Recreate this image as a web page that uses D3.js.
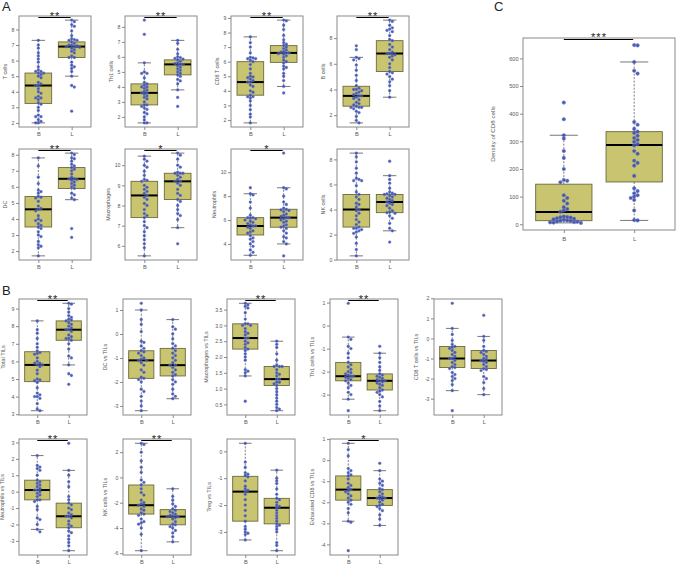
<!DOCTYPE html>
<html><head><meta charset="utf-8">
<script src="https://cdn.jsdelivr.net/npm/d3@7"></script>
<style>body{margin:0;background:#fff}svg{display:block;font-family:"Liberation Sans",Arial,sans-serif}</style>
</head><body><svg id="chart" width="677" height="564"></svg>
<script>
const groups = ["B", "L"];

// ---- Panel A ----
const aTB = [7.3,7.0,6.8,6.5,6.3,6.1,5.9,5.6,5.4,5.3,5.3,5.2,5.2,5.1,5.0,4.9,4.6,4.5,4.4,4.4,4.2,4.0,3.9,3.7,3.6,3.6,3.5,3.3,3.2,3.0,2.8,2.5,2.4,2.4,2.2,2.1,2.0,2.0];
const aTL = [8.6,8.5,8.3,8.2,7.9,7.6,7.4,7.35,7.3,7.3,7.2,7.1,7.0,7.0,6.95,6.9,6.9,6.85,6.8,6.7,6.6,6.5,6.3,6.2,6.2,5.9,5.7,5.6,5.5,5.3,5.0,4.4,4.3,2.75];
const aTBoxB = [2.0,3.25,4.4,5.2,7.3], aTBoxL = [5.0,6.2,6.9,7.2,8.6];
const aTTicks = [2,3,4,5,6,7,8];

const aTh1B = [8.45,7.5,5.6,5.0,4.9,4.9,4.6,4.3,4.2,4.1,4.0,4.0,3.9,3.8,3.7,3.6,3.6,3.5,3.4,3.3,3.2,3.0,2.8,2.8,2.7,2.6,2.5,2.3,2.2,2.0,1.8,1.6,1.6];
const aTh1L = [7.1,6.9,6.5,6.2,6.0,5.95,5.9,5.85,5.8,5.7,5.6,5.55,5.5,5.5,5.4,5.3,5.2,5.1,5.0,4.9,4.8,4.7,4.5,4.4,4.2,3.8,3.3,2.7];
const aTh1BoxB = [1.6,2.8,3.6,4.2,5.6], aTh1BoxL = [3.8,4.8,5.5,5.8,7.1];
const aTh1Ticks = [2,3,4,5,6,7,8];

const aCD8B = [7.7,7.3,7.0,6.6,6.3,6.25,6.2,6.2,6.1,6.0,5.8,5.5,5.2,5.0,4.95,4.9,4.8,4.7,4.6,4.6,4.4,4.3,4.0,3.9,3.7,3.6,3.6,3.5,3.3,3.0,2.7,2.4,2.2,1.8];
const aCD8L = [8.85,8.8,8.5,8.2,7.8,7.5,7.3,7.2,7.1,7.0,6.9,6.8,6.7,6.65,6.6,6.6,6.55,6.5,6.4,6.3,6.1,6.0,5.9,5.7,5.6,5.5,5.2,5.0,4.7,4.3,3.85];
const aCD8BoxB = [1.8,3.7,4.6,6.0,7.7], aCD8BoxL = [4.3,5.95,6.6,7.1,8.85];
const aCD8Ticks = [2,3,4,5,6,7,8,9];

const aBcB = [7.4,7.1,6.5,6.4,6.3,5.9,5.5,5.1,4.7,4.3,4.1,4.0,4.0,3.9,3.8,3.7,3.6,3.5,3.5,3.4,3.3,3.2,3.0,2.9,2.8,2.7,2.6,2.6,2.6,2.5,2.3,2.2,1.9,1.6,1.4];
const aBcL = [9.4,9.3,9.0,8.8,8.7,8.6,8.5,8.2,7.9,7.8,7.5,7.3,7.1,6.9,6.8,6.8,6.7,6.6,6.5,6.3,6.0,5.7,5.4,5.3,5.2,5.0,4.8,4.6,4.3,3.9,3.4];
const aBcBoxB = [1.4,2.7,3.5,4.25,6.5], aBcBoxL = [3.4,5.4,6.8,7.8,9.4];
const aBcTicks = [2,4,6,8];

const aDCB = [7.8,7.3,6.6,6.2,5.8,5.7,5.6,5.4,5.35,5.3,5.1,4.8,4.65,4.6,4.5,4.2,4.0,3.9,3.9,3.7,3.6,3.5,3.4,3.2,3.0,2.9,2.6,2.4,2.3,2.2,1.7];
const aDCL = [8.1,8.0,7.8,7.75,7.6,7.4,7.3,7.2,7.1,7.0,6.8,6.6,6.5,6.5,6.45,6.4,6.3,6.2,6.1,6.0,5.9,5.6,5.5,5.3,5.2,3.4,2.85];
const aDCBoxB = [1.7,3.5,4.6,5.4,7.8], aDCBoxL = [5.2,5.9,6.5,7.2,8.1];
const aDCTicks = [2,3,4,5,6,7,8];

const aMacB = [10.45,10.3,10.2,10.0,9.9,9.7,9.5,9.3,9.25,9.2,9.0,8.9,8.8,8.7,8.6,8.5,8.4,8.3,8.1,8.0,7.8,7.6,7.5,7.4,7.2,7.0,6.9,6.7,6.5,6.3,6.1,5.9,5.5];
const aMacL = [10.6,10.5,10.3,10.0,9.9,9.65,9.6,9.6,9.6,9.5,9.4,9.3,9.2,9.2,9.1,9.0,8.8,8.6,8.5,8.3,8.2,8.0,7.8,7.6,7.5,7.3,6.9,6.1];
const aMacBoxB = [5.5,7.4,8.5,9.2,10.45], aMacBoxL = [6.9,8.3,9.2,9.6,10.6];
const aMacTicks = [6,7,8,9,10];

const aNeuB = [8.7,8.2,8.1,7.5,7.0,6.4,6.2,6.2,6.15,6.1,6.0,5.9,5.8,5.7,5.6,5.5,5.5,5.4,5.3,5.1,5.0,4.9,4.7,4.5,4.4,4.2,4.0,3.8,3.5,3.3,3.05];
const aNeuL = [11.6,8.7,8.6,8.0,7.5,7.3,7.0,6.9,6.85,6.8,6.7,6.5,6.4,6.3,6.2,6.2,6.1,6.0,5.9,5.8,5.6,5.5,5.4,5.3,5.1,4.9,4.6,4.5,4.2,4.0,3.0];
const aNeuBoxB = [3.05,4.75,5.5,6.2,8.2], aNeuBoxL = [4.0,5.4,6.2,6.9,8.7];
const aNeuTicks = [4,6,8,10];

const aNKB = [8.5,8.2,7.8,7.3,6.9,6.5,6.4,6.3,6.3,5.9,5.4,5.2,5.0,4.8,4.5,4.4,4.2,4.0,3.9,3.7,3.5,3.2,3.0,2.8,2.6,2.5,2.5,2.4,2.3,2.2,2.1,1.8,1.3,0.8,0.3];
const aNKL = [7.85,6.7,6.4,6.1,5.7,5.4,5.3,5.25,5.2,5.2,5.1,5.0,4.9,4.8,4.7,4.6,4.5,4.4,4.3,4.1,3.9,3.8,3.75,3.7,3.5,3.3,2.9,2.5,2.3,1.4];
const aNKBoxB = [0.3,2.6,4.0,5.2,8.5], aNKBoxL = [2.3,3.75,4.6,5.2,6.7];
const aNKTicks = [0,2,4,6,8];

// ---- Panel C ----
const cDensB = [440,380,322,310,265,240,200,160,157,152,105,95,85,75,62,55,50,45,28,26,25,24,22,20,18,16,14,13,12,10,9,8,7,6,5];
const cDensL = [648,647,587,555,545,370,360,345,335,330,320,312,305,298,290,285,265,255,230,222,212,175,130,120,112,105,100,95,88,50,15,14];
const cDensBoxB = [5,13,44,145,322], cDensBoxL = [14,153,287,335,587];
const cDensTicks = [0,100,200,300,400,500,600];

// ---- Panel B ----
const bTotB = [8.3,7.8,7.6,7.3,7.0,6.8,6.6,6.5,6.45,6.4,6.2,6.0,5.9,5.9,5.8,5.8,5.7,5.5,5.3,5.0,4.95,4.9,4.8,4.5,4.2,4.1,4.0,4.0,3.9,3.6,3.3,3.2];
const bTotL = [9.3,9.25,9.0,8.8,8.6,8.5,8.4,8.35,8.3,8.2,8.1,8.0,7.9,7.8,7.8,7.7,7.5,7.4,7.3,7.3,7.2,7.0,6.7,6.3,6.2,5.8,5.3,5.2,4.7];
const bTotBoxB = [3.2,4.85,5.8,6.55,8.3], bTotBoxL = [5.8,7.2,7.8,8.3,9.3];
const bTotTicks = [3,4,5,6,7,8,9];

const bDCB = [1.28,1.0,0.6,0.4,0.1,-0.3,-0.35,-0.5,-0.6,-0.7,-0.75,-0.8,-0.9,-1.0,-1.05,-1.1,-1.1,-1.2,-1.3,-1.5,-1.6,-1.8,-1.85,-1.9,-2.0,-2.3,-2.4,-2.6,-2.8,-3.0,-3.2];
const bDCL = [0.6,0.3,0.2,0.0,-0.2,-0.4,-0.5,-0.6,-0.7,-0.8,-0.9,-1.0,-1.1,-1.2,-1.3,-1.3,-1.4,-1.5,-1.6,-1.7,-1.75,-1.9,-2.0,-2.1,-2.3,-2.5,-2.6,-2.7];
const bDCBoxB = [-3.2,-1.85,-1.1,-0.7,1.0], bDCBoxL = [-2.7,-1.75,-1.3,-0.6,0.6];
const bDCTicks = [-3,-2,-1,0,1];

const bMacB = [3.7,3.65,3.6,3.55,3.4,3.2,3.05,3.05,3.0,3.0,2.9,2.8,2.75,2.7,2.6,2.6,2.5,2.45,2.4,2.3,2.25,2.2,2.1,2.0,1.9,1.6,1.55,1.5,1.4,0.6];
const bMacL = [2.5,2.4,2.3,2.1,1.9,1.75,1.7,1.7,1.7,1.6,1.5,1.45,1.4,1.3,1.3,1.2,1.2,1.15,1.1,1.0,0.9,0.8,0.7,0.6,0.5,0.4,0.35,0.3];
const bMacBoxB = [1.4,2.25,2.6,3.05,3.7], bMacBoxL = [0.3,1.1,1.3,1.7,2.5];
const bMacTicks = [0.5,1.0,1.5,2.0,2.5,3.0,3.5];

const bTh1B = [0.97,-0.5,-0.6,-0.9,-1.0,-1.2,-1.4,-1.6,-1.7,-1.8,-1.9,-2.0,-2.05,-2.1,-2.15,-2.2,-2.2,-2.25,-2.3,-2.35,-2.4,-2.5,-2.6,-2.7,-2.9,-3.0,-3.2,-3.7];
const bTh1L = [-0.9,-1.2,-1.4,-1.6,-1.8,-1.95,-2.1,-2.15,-2.2,-2.25,-2.3,-2.35,-2.4,-2.4,-2.45,-2.5,-2.55,-2.6,-2.7,-2.8,-2.85,-2.9,-3.0,-3.1,-3.3,-3.5,-3.7];
const bTh1BoxB = [-3.2,-2.4,-2.2,-1.6,-0.5], bTh1BoxL = [-3.7,-2.8,-2.4,-2.1,-1.2];
const bTh1Ticks = [-3,-2,-1,0,1];

const bCD8B = [1.75,0.5,0.2,-0.1,-0.3,-0.4,-0.45,-0.5,-0.6,-0.7,-0.8,-0.9,-1.0,-1.0,-1.1,-1.2,-1.3,-1.4,-1.45,-1.5,-1.7,-1.8,-1.9,-2.0,-2.1,-2.3,-2.6,-3.6];
const bCD8L = [1.15,0.1,-0.1,-0.4,-0.6,-0.65,-0.7,-0.8,-0.9,-1.0,-1.05,-1.1,-1.15,-1.2,-1.3,-1.4,-1.5,-1.55,-1.6,-1.9,-2.0,-2.2,-2.5,-2.8];
const bCD8BoxB = [-2.6,-1.45,-1.0,-0.4,0.5], bCD8BoxL = [-2.8,-1.5,-1.1,-0.6,0.1];
const bCD8Ticks = [-3,-2,-1,0,1,2];

const bNeuB = [2.2,1.6,1.5,1.4,1.3,1.0,0.7,0.6,0.5,0.4,0.3,0.2,0.1,0.1,0.0,-0.1,-0.2,-0.3,-0.5,-0.5,-0.6,-0.9,-1.1,-1.6,-1.7,-2.0,-2.3,-2.45];
const bNeuL = [2.95,1.3,1.0,0.6,0.3,-0.3,-0.5,-0.7,-0.8,-1.0,-1.1,-1.3,-1.4,-1.5,-1.5,-1.6,-1.8,-2.0,-2.1,-2.2,-2.4,-2.5,-2.7,-2.9,-3.1,-3.3,-3.6];
const bNeuBoxB = [-2.3,-0.5,0.1,0.7,2.2], bNeuBoxL = [-3.6,-2.2,-1.5,-0.7,1.3];
const bNeuTicks = [-3,-2,-1,0,1,2,3];

const bNKB = [2.7,2.6,2.0,1.3,0.8,0.4,-0.2,-0.4,-0.6,-0.9,-1.2,-1.4,-1.8,-2.0,-2.1,-2.2,-2.3,-2.5,-2.6,-2.8,-2.9,-3.0,-3.3,-3.5,-3.6,-3.7,-4.0,-4.5,-5.8];
const bNKL = [-0.9,-1.5,-1.8,-2.1,-2.3,-2.5,-2.6,-2.7,-2.8,-2.9,-3.0,-3.05,-3.1,-3.1,-3.2,-3.3,-3.5,-3.7,-3.75,-3.9,-4.0,-4.2,-4.4,-4.7,-5.1];
const bNKBoxB = [-5.8,-2.9,-2.2,-0.6,2.7], bNKBoxL = [-5.1,-3.75,-3.1,-2.55,-0.9];
const bNKTicks = [-6,-4,-2,0,2];

const bTregB = [0.3,-0.4,-0.6,-0.8,-0.85,-0.9,-0.95,-1.1,-1.3,-1.4,-1.45,-1.5,-1.6,-1.8,-2.0,-2.2,-2.4,-2.6,-2.8,-2.9,-3.0,-3.05,-3.1,-3.3];
const bTregL = [-0.7,-1.0,-1.1,-1.2,-1.4,-1.6,-1.75,-1.8,-1.9,-2.0,-2.05,-2.1,-2.2,-2.3,-2.4,-2.5,-2.6,-2.7,-2.75,-2.8,-2.9,-3.0,-3.4,-3.5,-3.7];
const bTregBoxB = [-3.3,-2.6,-1.5,-0.93,0.3], bTregBoxL = [-3.7,-2.7,-2.1,-1.75,-0.7];
const bTregTicks = [-3,-2,-1,0];

const bExhB = [0.8,0.5,0.2,-0.4,-0.5,-0.6,-0.7,-0.75,-0.9,-1.1,-1.2,-1.3,-1.4,-1.45,-1.5,-1.6,-1.7,-1.8,-1.9,-2.0,-2.1,-2.3,-2.5,-2.9,-2.95,-4.3];
const bExhL = [-0.15,-0.5,-0.9,-1.0,-1.1,-1.2,-1.35,-1.4,-1.5,-1.6,-1.7,-1.75,-1.8,-1.8,-1.85,-1.9,-2.0,-2.1,-2.15,-2.2,-2.3,-2.4,-2.6,-2.8,-3.1];
const bExhBoxB = [-2.9,-1.9,-1.4,-0.75,0.8], bExhBoxL = [-3.1,-2.15,-1.8,-1.4,-0.5];
const bExhTicks = [-4,-3,-2,-1,0,1];

const panelTitles = ["T cells","Th1 cells","CD8 T cells","B cells","DC","Macrophages","Neutrophils","NK cells",
  "Density of CD8 cells",
  "Total TILs","DC vs TILs","Macrophages vs TILs","Th1 cells vs TILs","CD8 T cells vs TILs",
  "Neutrophils vs TILs","NK cells vs TILs","Treg vs TILs","Exhausted CD8 vs TILs"];
const sigStars = ["**","**","**","**","**","*","*","",
  "***",
  "**","","**","**","","**","**","","*"];

// ---- layout ----
const ptsList = [[aTB,aTL],[aTh1B,aTh1L],[aCD8B,aCD8L],[aBcB,aBcL],[aDCB,aDCL],[aMacB,aMacL],[aNeuB,aNeuL],[aNKB,aNKL],
  [cDensB,cDensL],
  [bTotB,bTotL],[bDCB,bDCL],[bMacB,bMacL],[bTh1B,bTh1L],[bCD8B,bCD8L],[bNeuB,bNeuL],[bNKB,bNKL],[bTregB,bTregL],[bExhB,bExhL]];
const boxList = [[aTBoxB,aTBoxL],[aTh1BoxB,aTh1BoxL],[aCD8BoxB,aCD8BoxL],[aBcBoxB,aBcBoxL],[aDCBoxB,aDCBoxL],[aMacBoxB,aMacBoxL],[aNeuBoxB,aNeuBoxL],[aNKBoxB,aNKBoxL],
  [cDensBoxB,cDensBoxL],
  [bTotBoxB,bTotBoxL],[bDCBoxB,bDCBoxL],[bMacBoxB,bMacBoxL],[bTh1BoxB,bTh1BoxL],[bCD8BoxB,bCD8BoxL],[bNeuBoxB,bNeuBoxL],[bNKBoxB,bNKBoxL],[bTregBoxB,bTregBoxL],[bExhBoxB,bExhBoxL]];
const tickList = [aTTicks,aTh1Ticks,aCD8Ticks,aBcTicks,aDCTicks,aMacTicks,aNeuTicks,aNKTicks,
  cDensTicks,
  bTotTicks,bDCTicks,bMacTicks,bTh1Ticks,bCD8Ticks,bNeuTicks,bNKTicks,bTregTicks,bExhTicks];

const frames = [];
[19,125,231,337].forEach(x => frames.push({x, y:16, w:72, h:111, kind:"A"}));
[19,125,231,337].forEach(x => frames.push({x, y:149, w:72, h:111, kind:"A"}));
frames.push({x:523, y:38, w:152, h:192, kind:"C"});
[19,123,227,330,434].forEach(x => frames.push({x, y:299, w:68, h:116, kind:"B"}));
[19,123,227,330].forEach(x => frames.push({x, y:439, w:68, h:116, kind:"B"}));

const svg = d3.select("#chart");
svg.append("rect").attr("width",677).attr("height",564).attr("fill","#fff");

const boxFill = "#c9c46f", boxEdge = "#6b6a3e", ptCol = "#3a4ead", grey = "#5a5a5a", frameCol = "#8a8a8a";

function swarm(vals, y, r) {
  const s = vals.map(v => ({v, py: y(v)})).sort((a,b) => a.py - b.py);
  const placed = [];
  const step = 2 * r * 0.95;
  s.forEach(p => {
    p.dx = 0;
    for (let k = 0; k < 60; k++) {
      const off = k === 0 ? 0 : (k % 2 ? 1 : -1) * Math.ceil(k/2) * step;
      if (!placed.some(q => Math.hypot(q.dx - off, q.py - p.py) < 2 * r * 0.92)) { p.dx = off; break; }
    }
    placed.push(p);
  });
  return placed;
}

frames.forEach((f, i) => {
  const big = f.kind === "C";
  const tickFs = big ? 5.6 : 5.2, titleFs = big ? 6.2 : 5.4, r = big ? 1.8 : 1.4;
  const g = svg.append("g").attr("transform", `translate(${f.x},${f.y})`);
  const pts = ptsList[i], boxes = boxList[i];
  const all = pts[0].concat(pts[1]);
  const [mn, mx] = d3.extent(all), d = mx - mn;
  const y = d3.scaleLinear().domain([mn - 0.04*d, mx + 0.04*d]).range([f.h, 0]);
  const x = d3.scaleLinear().domain([0.42, 2.58]).range([0, f.w]);
  const hw = x(1.4) - x(1);

  boxes.forEach((b, gi) => {
    const cx = x(gi + 1);
    const [lo, q1, med, q3, hi] = b;
    g.append("line").attr("x1",cx).attr("x2",cx).attr("y1",y(q3)).attr("y2",y(hi))
      .attr("stroke",grey).attr("stroke-width",0.8).attr("stroke-dasharray","2,1.5");
    g.append("line").attr("x1",cx).attr("x2",cx).attr("y1",y(q1)).attr("y2",y(lo))
      .attr("stroke",grey).attr("stroke-width",0.8).attr("stroke-dasharray","2,1.5");
    [lo, hi].forEach(v => g.append("line").attr("x1",cx-hw/2).attr("x2",cx+hw/2).attr("y1",y(v)).attr("y2",y(v))
      .attr("stroke","#777").attr("stroke-width",1));
    g.append("rect").attr("x",cx-hw).attr("width",2*hw).attr("y",y(q3)).attr("height",y(q1)-y(q3))
      .attr("fill",boxFill).attr("stroke",boxEdge).attr("stroke-width",0.9);
    g.append("line").attr("x1",cx-hw).attr("x2",cx+hw).attr("y1",y(med)).attr("y2",y(med))
      .attr("stroke","#000").attr("stroke-width",2);
  });

  pts.forEach((vals, gi) => {
    const cx = x(gi + 1);
    g.append("g").selectAll("circle").data(swarm(vals, y, r)).join("circle")
      .attr("cx", p => cx + p.dx).attr("cy", p => p.py).attr("r", r)
      .attr("fill", ptCol).attr("fill-opacity",0.9).attr("stroke","#6f7fd0").attr("stroke-width",0.4);
  });

  g.append("rect").attr("width",f.w).attr("height",f.h).attr("fill","none").attr("stroke",frameCol).attr("stroke-width",1);

  const fmt = i === 11 ? (v => v.toFixed(1)) : (v => String(v));
  const ya = g.append("g").call(d3.axisLeft(y).tickValues(tickList[i]).tickSize(3).tickPadding(1.5).tickFormat(fmt));
  ya.select(".domain").remove();
  ya.selectAll("line").attr("stroke","#888");
  ya.selectAll("text").attr("fill",grey).attr("font-size",tickFs).attr("font-family","Liberation Sans, Arial, sans-serif");

  const xa = g.append("g").attr("transform",`translate(0,${f.h})`)
    .call(d3.axisBottom(x).tickValues([1,2]).tickSize(3).tickPadding(big ? 4 : 2).tickFormat((v, k) => groups[k]));
  xa.select(".domain").remove();
  xa.selectAll("line").attr("stroke","#888");
  xa.selectAll("text").attr("fill",grey).attr("font-size",big ? 6 : 5.6).attr("font-family","Liberation Sans, Arial, sans-serif");

  const bb = ya.node().getBBox();
  const gap = f.kind === "A" ? 4.5 : (f.kind === "B" ? 7 : 14);
  const tx = Math.max(bb.x - gap, 4 - f.x);
  g.append("text").attr("transform",`translate(${tx},${f.h/2}) rotate(-90)`)
    .attr("text-anchor","middle").attr("fill",grey).attr("font-size",titleFs).text(panelTitles[i]);

  if (sigStars[i]) {
    g.append("line").attr("x1",x(1)).attr("x2",x(2)-1).attr("y1",1.5).attr("y2",1.5).attr("stroke","#000").attr("stroke-width",1);
    g.append("text").attr("x",(x(1)+x(2))/2).attr("y",big ? 3 : 3.5).attr("text-anchor","middle")
      .attr("font-size",11).attr("letter-spacing",1).attr("fill","#222").text(sigStars[i]);
  }
});

svg.append("text").attr("x",2).attr("y",11).attr("font-size",13).attr("fill","#222").text("A");
svg.append("text").attr("x",2).attr("y",295).attr("font-size",13).attr("fill","#222").text("B");
svg.append("text").attr("x",494).attr("y",11).attr("font-size",13).attr("fill","#222").text("C");
</script></body></html>
